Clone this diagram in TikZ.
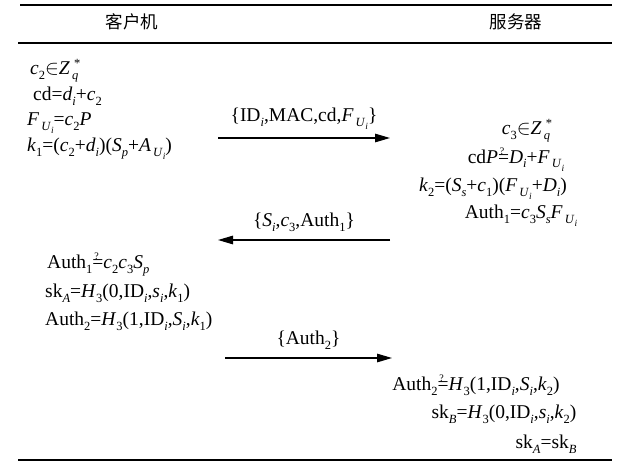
\documentclass[tikz,border=0pt]{standalone}
\usepackage{fontspec}
\setmainfont{Liberation Serif}
\newfontfamily\cjk{Noto Sans CJK SC}
\usetikzlibrary{arrows.meta}
\newcommand\I[1]{\textit{#1}}
\newcommand\lo[1]{\raisebox{-5pt}{\fontsize{12.5}{12.5}\selectfont #1}}
\newcommand\llo[1]{\raisebox{-3pt}{\fontsize{9.5}{9.5}\selectfont #1}}
\newcommand\hi[1]{\raisebox{7.5pt}{\fontsize{12.5}{12.5}\selectfont #1}}
\newcommand\Zq{\I{Z}\rlap{\lo{\,\I{q}}}\hi{\,\,*}}
\newcommand\FU{\I{F}\lo{\,\I{U}\llo{\I{i}}}}
\newcommand\qeq{\mbox{\rlap{\raisebox{8.5pt}{\fontsize{10}{10}\selectfont\kern1.8pt ?}}=}}
\begin{document}
\begin{tikzpicture}[x=1pt,y=-1pt,
  txt/.style={anchor=base west,inner sep=0pt,font=\fontsize{19.5}{21}\selectfont},
  rtxt/.style={anchor=base,inner sep=0pt,font=\fontsize{19.5}{21}\selectfont},
  head/.style={inner sep=0pt,font=\cjk\fontsize{17.5}{19}\selectfont},
  rule/.style={line width=2pt},
  msg/.style={line width=1.3pt,-{Triangle[length=15pt,width=8.5pt]}},
  lab/.style={midway,above=8pt,inner sep=0pt,font=\fontsize{19.5}{21}\selectfont}]
\useasboundingbox (0,0) rectangle (617,465);
% rules
\coordinate (t1) at (20,5); \coordinate (t2) at (612,5);
\coordinate (h1) at (18,43); \coordinate (h2) at (612,43);
\coordinate (b1) at (18,460); \coordinate (b2) at (612,460);
\draw[rule] (t1) -- (t2);
\draw[rule] (h1) -- (h2);
\draw[rule] (b1) -- (b2);
\node[head] (client) at (132,22) {客户机};
\node[head] (server) at (516,22) {服务器};
% client step 1
\node[txt] (l1) at (30,75) {\I{c}\lo{2}$\in$\Zq};
\node[txt] (l2) at (33,101) {cd=\I{d}\lo{\I{i}}+\I{c}\lo{2}};
\node[txt] (l3) at (27,126) {\FU=\I{c}\lo{2}\I{P}};
\node[txt] (l4) at (27,151) {\I{k}\lo{1}=(\I{c}\lo{2}+\I{d}\lo{\I{i}})(\I{S}\lo{\I{p}}+\I{A}\lo{\,\I{U}\llo{\I{i}}})};
% message 1
\coordinate (m1s) at (218,138); \coordinate (m1e) at (390,138);
\draw[msg] (m1s) -- node[lab] (ml1) {\{ID\lo{\I{i}},MAC,cd,\FU\}} (m1e);
% server step 1
\node[rtxt] (r1) at (527,135) {\I{c}\lo{3}$\in$\Zq};
\node[rtxt] (r2) at (516,163) {cd\I{P}\qeq\I{D}\lo{\I{i}}+\FU};
\node[rtxt] (r3) at (493,191) {\I{k}\lo{2}=(\I{S}\lo{\I{s}}+\I{c}\lo{1})(\FU+\I{D}\lo{\I{i}})};
\node[rtxt] (r4) at (521,218) {Auth\lo{1}=\I{c}\lo{3}\I{S}\lo{\I{s}}\FU};
% message 2
\coordinate (m2s) at (390,240); \coordinate (m2e) at (218,240);
\draw[msg] (m2s) -- node[lab] (ml2) {\{\I{S}\lo{\I{i}},\I{c}\lo{3},Auth\lo{1}\}} (m2e);
% client step 2
\node[txt] (l5) at (47,268) {Auth\lo{1}\qeq\I{c}\lo{2}\I{c}\lo{3}\I{S}\lo{\I{p}}};
\node[txt] (l6) at (45,297) {sk\lo{\I{A}}=\I{H}\lo{3}(0,ID\lo{\I{i}},\I{s}\lo{\I{i}},\I{k}\lo{1})};
\node[txt] (l7) at (45,325) {Auth\lo{2}=\I{H}\lo{3}(1,ID\lo{\I{i}},\I{S}\lo{\I{i}},\I{k}\lo{1})};
% message 3
\coordinate (m3s) at (225,358); \coordinate (m3e) at (392,358);
\draw[msg] (m3s) -- node[lab] (ml3) {\{Auth\lo{2}\}} (m3e);
% server step 2
\node[rtxt] (r5) at (476,390) {Auth\lo{2}\qeq\I{H}\lo{3}(1,ID\lo{\I{i}},\I{S}\lo{\I{i}},\I{k}\lo{2})};
\node[rtxt] (r6) at (504,418) {sk\lo{\I{B}}=\I{H}\lo{3}(0,ID\lo{\I{i}},\I{s}\lo{\I{i}},\I{k}\lo{2})};
\node[rtxt] (r7) at (546,448) {sk\lo{\I{A}}=sk\lo{\I{B}}};
\end{tikzpicture}
\end{document}
